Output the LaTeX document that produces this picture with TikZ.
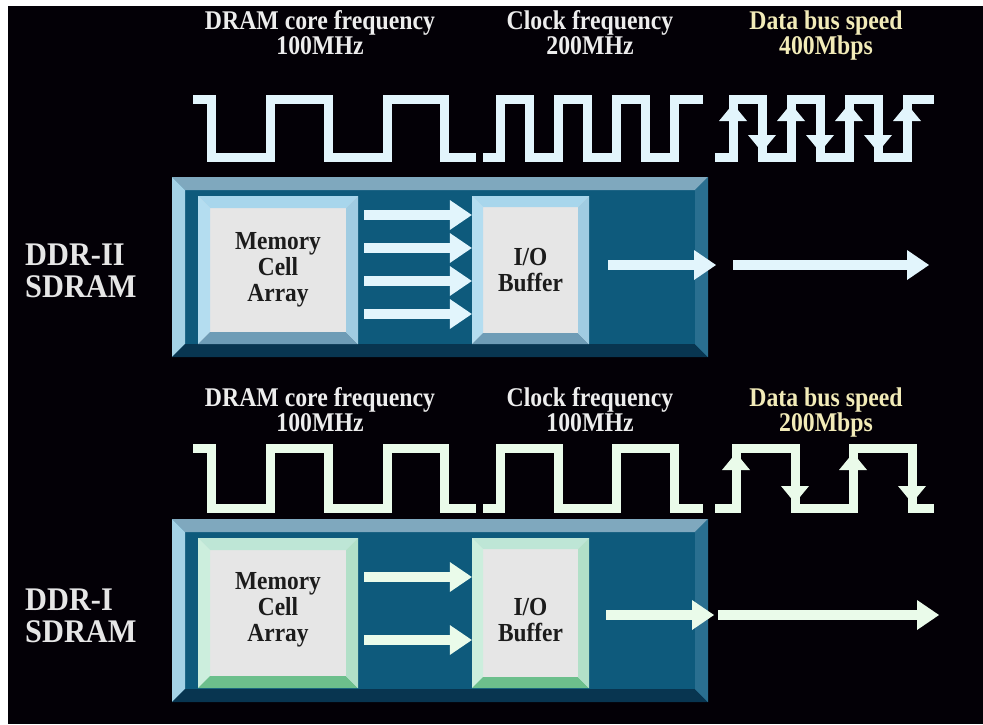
\documentclass[tikz,border=0pt]{standalone}
\usepackage{fontspec}
\setmainfont{Liberation Serif}
\usetikzlibrary{arrows.meta}

% palette
\definecolor{bg}{HTML}{030006}
\definecolor{obF}{HTML}{0E5A7C}
\definecolor{obT}{HTML}{7FA8BE}
\definecolor{obL}{HTML}{A4D2E6}
\definecolor{obB}{HTML}{083550}
\definecolor{obR}{HTML}{2A6F90}
\definecolor{ubF}{HTML}{E6E6E6}
\definecolor{ubT}{HTML}{A8D6EC}
\definecolor{ubL}{HTML}{B4DDF0}
\definecolor{ubB}{HTML}{6E9CB6}
\definecolor{ubR}{HTML}{A0CCE2}
\definecolor{gbF}{HTML}{E6E6E6}
\definecolor{gbT}{HTML}{BEE6D6}
\definecolor{gbL}{HTML}{CCEEDD}
\definecolor{gbB}{HTML}{6CBF8C}
\definecolor{gbR}{HTML}{B2E0C8}
\definecolor{waveA}{HTML}{E2F5FC}
\definecolor{waveB}{HTML}{EAFBEA}
\definecolor{titlegray}{HTML}{EDEDED}
\definecolor{titleyellow}{HTML}{F2EBB8}
\definecolor{sidegray}{HTML}{E6E6E6}
\definecolor{boxink}{HTML}{1C1C1C}

% raised panel: #1,#2 top left; #3,#4 bottom right; #5 bevel; #6 colour prefix
\newcommand{\bevelbox}[6]{%
  \fill[#6F] (#1,#2) rectangle (#3,#4);
  \fill[#6T] (#1,#2) -- (#3,#2) -- ({#3-#5},{#2+#5}) -- ({#1+#5},{#2+#5}) -- cycle;
  \fill[#6L] (#1,#2) -- ({#1+#5},{#2+#5}) -- ({#1+#5},{#4-#5}) -- (#1,#4) -- cycle;
  \fill[#6B] (#1,#4) -- ({#1+#5},{#4-#5}) -- ({#3-#5},{#4-#5}) -- (#3,#4) -- cycle;
  \fill[#6R] (#3,#2) -- ({#3-#5},{#2+#5}) -- ({#3-#5},{#4-#5}) -- (#3,#4) -- cycle;
}
% narrow, tall lettering
\newcommand{\narrow}[1]{\scalebox{0.88}[1]{#1}}

\tikzset{
  wave/.style={line width=9pt, line join=miter, line cap=butt},
  fat/.style={line width=10pt, -{Triangle[length=22pt,width=30pt,line width=0pt]}},
  edgetip/.style={line width=9pt, -{Triangle[length=17pt,width=28pt,line width=0pt]}},
  title/.style={font=\fontsize{27}{29}\selectfont\bfseries, text=titlegray, inner sep=0pt, anchor=base},
  side/.style={font=\fontsize{33}{35}\selectfont\bfseries, text=sidegray, inner sep=0pt, anchor=west},
  boxlabel/.style={font=\fontsize{26}{26}\selectfont\bfseries, text=boxink, align=center, inner sep=0pt},
}

\begin{document}
\begin{tikzpicture}[x=1pt,y=-1pt]
\useasboundingbox (0,0) rectangle (983,724);
\fill[white] (0,0) rectangle (983,724);
\fill[bg] (8,6) rectangle (983,724);

% ---------- DDR-II ----------
\node[title] (c2a) at (320,29) {\narrow{DRAM core frequency}};
\node[title] (c2b) at (320,54) {\narrow{100MHz}};
\node[title] (k2a) at (590,29) {\narrow{Clock frequency}};
\node[title] (k2b) at (590,54) {\narrow{200MHz}};
\node[title, text=titleyellow] (d2a) at (826,29) {\narrow{Data bus speed}};
\node[title, text=titleyellow] (d2b) at (826,54) {\narrow{400Mbps}};

\draw[wave, waveA] (193,99) -| (211,157) -| (270,99) -| (328,157) -| (387,99) -| (444,157) -- (476,157);
\draw[wave, waveA] (483,157) -| (500,99) -| (529,157) -| (558,99) -| (587,157) -| (616,99) -| (645,157) -| (674,99) -- (703,99);
\draw[wave, waveA] (715,157) -| (733,99) -| (762,157) -| (791,99) -| (820,157) -| (849,99) -| (878,157) -| (907,99) -- (934,99);
\foreach \x in {733,791,849,907} \draw[edgetip, waveA] (\x,140) -- (\x,104);
\foreach \x in {762,820,878} \draw[edgetip, waveA] (\x,116) -- (\x,152);

\node[side] (n2a) at (25,255) {\scalebox{0.92}[1]{DDR-II}};
\node[side] (n2b) at (25,287) {\scalebox{0.92}[1]{SDRAM}};

\bevelbox{172}{177}{708}{357}{13}{ob}
\bevelbox{198}{196}{358}{344}{12}{ub}
\bevelbox{472}{196}{589}{344}{11}{ub}
\node[boxlabel, minimum width=160pt, minimum height=148pt] (mem2) at (278,270)
  {\scalebox{0.9}[1]{Memory}\\\scalebox{0.9}[1]{Cell}\\\scalebox{0.9}[1]{Array}};
\node[boxlabel, minimum width=117pt, minimum height=148pt] (io2) at (530.5,270)
  {\scalebox{0.9}[1]{I/O}\\\scalebox{0.9}[1]{Buffer}};

\foreach \y in {215,248,281,314}
  \draw[fat, waveA, shorten <=6pt] (mem2.east |- 0,\y) -- (io2.west |- 0,\y);
\coordinate (o2a) at (716,265);
\coordinate (o2b) at (733,265);
\coordinate (o2c) at (929,265);
\draw[fat, waveA, shorten <=19pt] (io2.east |- o2a) -- (o2a);
\draw[fat, waveA] (o2b) -- (o2c);

% ---------- DDR-I ----------
\node[title] (c1a) at (320,406) {\narrow{DRAM core frequency}};
\node[title] (k1a) at (590,406) {\narrow{Clock frequency}};
\node[title] (c1b) at (320,431) {\narrow{100MHz}};
\node[title] (k1b) at (590,431) {\narrow{100MHz}};
\node[title, text=titleyellow] (d1a) at (826,406) {\narrow{Data bus speed}};
\node[title, text=titleyellow] (d1b) at (826,431) {\narrow{200Mbps}};

\draw[wave, waveB] (193,448) -| (211,508) -| (270,448) -| (328,508) -| (387,448) -| (444,508) -- (476,508);
\draw[wave, waveB] (483,508) -| (500,448) -| (558,508) -| (616,448) -| (674,508) -- (703,508);
\draw[wave, waveB] (715,508) -| (736,448) -| (795,508) -| (853,448) -| (912,508) -- (934,508);
\foreach \x in {736,853} \draw[edgetip, waveB] (\x,490) -- (\x,453);
\foreach \x in {795,912} \draw[edgetip, waveB] (\x,466) -- (\x,503);

\node[side] (n1a) at (25,600) {\scalebox{0.92}[1]{DDR-I}};
\node[side] (n1b) at (25,632) {\scalebox{0.92}[1]{SDRAM}};

\bevelbox{172}{519}{708}{702}{13}{ob}
\bevelbox{198}{538}{358}{688}{12}{gb}
\bevelbox{472}{538}{589}{688}{11}{gb}
\node[boxlabel, minimum width=160pt, minimum height=150pt] (mem1) at (278,610)
  {\scalebox{0.9}[1]{Memory}\\\scalebox{0.9}[1]{Cell}\\\scalebox{0.9}[1]{Array}};
\node[boxlabel, minimum width=117pt, minimum height=150pt] (io1) at (530.5,620)
  {\scalebox{0.9}[1]{I/O}\\\scalebox{0.9}[1]{Buffer}};

\foreach \y in {577,640}
  \draw[fat, waveB, shorten <=6pt] (mem1.east |- 0,\y) -- (io1.west |- 0,\y);
\coordinate (o1a) at (714,615);
\coordinate (o1b) at (718,615);
\coordinate (o1c) at (939,615);
\draw[fat, waveB, shorten <=17pt] (io1.east |- o1a) -- (o1a);
\draw[fat, waveB] (o1b) -- (o1c);
\end{tikzpicture}
\end{document}
